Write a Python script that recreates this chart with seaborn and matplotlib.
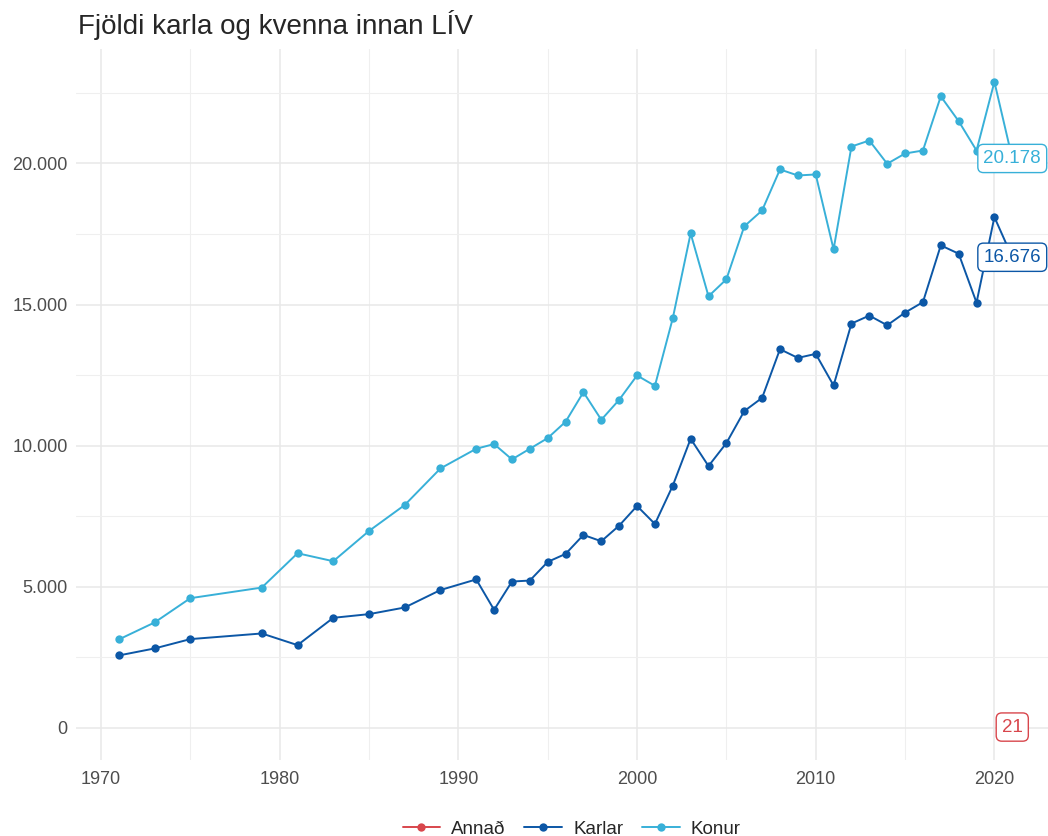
import pandas as pd
import matplotlib.pyplot as plt
import seaborn as sns
from matplotlib.ticker import MultipleLocator, FuncFormatter

# ár og fjöldi
ar = [1971, 1973, 1975, 1979, 1981, 1983, 1985, 1987, 1989, 1991, 1992, 1993, 1994,
      1995, 1996, 1997, 1998, 1999, 2000, 2001, 2002, 2003, 2004, 2005, 2006, 2007,
      2008, 2009, 2010, 2011, 2012, 2013, 2014, 2015, 2016, 2017, 2018, 2019, 2020, 2021]
karlar = [2560, 2808, 3139, 3339, 2926, 3894, 4024, 4260, 4880, 5255, 4177, 5180, 5215,
          5876, 6159, 6832, 6608, 7162, 7858, 7221, 8578, 10241, 9274, 10088, 11221, 11692,
          13416, 13108, 13250, 12130, 14325, 14608, 14265, 14714, 15085, 17097, 16803, 15068, 18100, 16676]
konur = [3127, 3729, 4590, 4966, 6183, 5900, 6973, 7894, 9190, 9887, 10053, 9510, 9887,
         10265, 10843, 11894, 10914, 11622, 12485, 12118, 14513, 17522, 15292, 15894, 17770, 18336,
         19788, 19575, 19611, 16956, 20602, 20814, 19990, 20354, 20460, 22380, 21500, 20460, 22895, 20178]
annad_ar = [2021]
annad = [21]

df = pd.concat([
    pd.DataFrame({'ar': annad_ar, 'fjoldi': annad, 'kyn': 'Annað'}),
    pd.DataFrame({'ar': ar, 'fjoldi': karlar, 'kyn': 'Karlar'}),
    pd.DataFrame({'ar': ar, 'fjoldi': konur, 'kyn': 'Konur'}),
])
litir = {'Annað': '#d8464c', 'Karlar': '#0c57a6', 'Konur': '#38b0d8'}

sns.set_style('white')
plt.rcParams['font.family'] = ['Liberation Sans', 'DejaVu Sans']

fig = plt.figure(figsize=(10.48, 8.36), dpi=100)
ax = fig.add_axes([0.0725, 0.091, 0.9275, 0.85])

sns.lineplot(data=df, x='ar', y='fjoldi', hue='kyn', palette=litir, marker='o',
             markersize=6, markeredgewidth=0, linewidth=1.4, ax=ax, legend=True)

# merkingar við síðasta árið
for kyn, gildi in [('Konur', konur[-1]), ('Karlar', karlar[-1]), ('Annað', annad[-1])]:
    texti = f'{gildi:,}'.replace(',', '.')
    ax.text(2021, gildi, texti, ha='center', va='center', fontsize=13.5, color=litir[kyn],
            bbox=dict(boxstyle='round,pad=0.3,rounding_size=0.3', fc='white', ec=litir[kyn], lw=1))

ax.set_xlim(1968.6, 2023.0)
ax.set_ylim(-1144, 24047)
ax.xaxis.set_major_locator(MultipleLocator(10))
ax.xaxis.set_minor_locator(MultipleLocator(5))
ax.yaxis.set_major_locator(MultipleLocator(5000))
ax.yaxis.set_minor_locator(MultipleLocator(2500))
ax.yaxis.set_major_formatter(FuncFormatter(lambda v, p: f'{int(v):,}'.replace(',', '.')))
ax.grid(which='major', color='#e8e8e8', linewidth=1.1)
ax.grid(which='minor', color='#efefef', linewidth=0.8)
ax.set_axisbelow(True)
ax.tick_params(axis='both', which='both', length=0, labelsize=13, labelcolor='#4d4d4d')
ax.tick_params(axis='x', pad=8)
ax.tick_params(axis='y', pad=6)
sns.despine(left=True, bottom=True)
ax.set_xlabel('')
ax.set_ylabel('')

fig.text(0.074, 0.97, 'Fjöldi karla og kvenna innan LÍV', fontsize=20, va='center', ha='left')

ax.legend(loc='lower center', bbox_to_anchor=(0.51, -0.133), ncol=3, frameon=False,
          fontsize=13.5, handlelength=2, columnspacing=1.0, handletextpad=0.6, title=None)

fig.savefig('out.png', dpi=100)
